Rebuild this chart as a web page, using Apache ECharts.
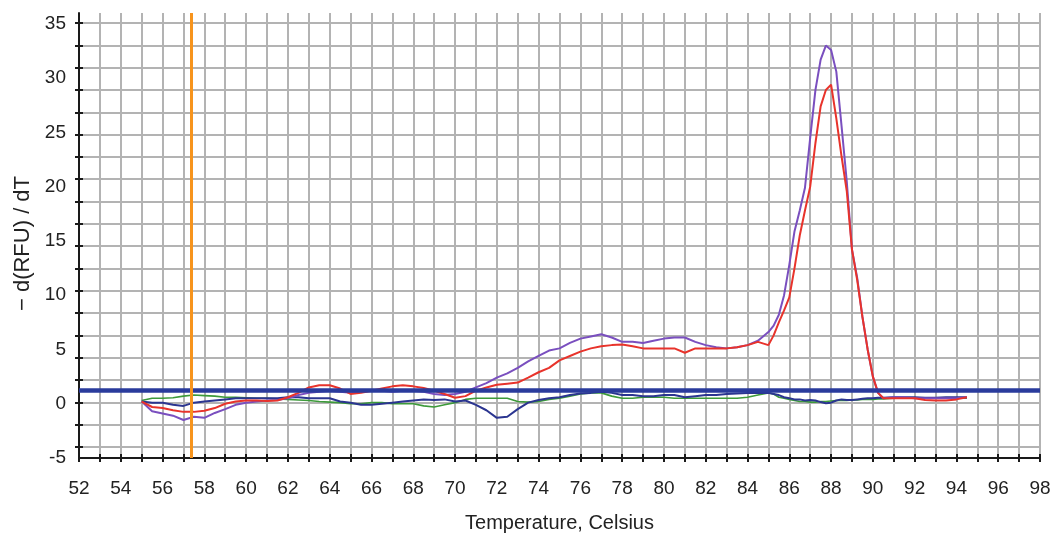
<!DOCTYPE html>
<html>
<head>
<meta charset="utf-8">
<title>Melt curve</title>
<script src="https://cdn.jsdelivr.net/npm/echarts@6/dist/echarts.min.js"></script>
<style>
  html, body { margin: 0; padding: 0; background: #ffffff; }
  #chart { width: 1055px; height: 541px; }
</style>
</head>
<body>
<div id="chart"></div>
<script>
// Melt-peak traces: temperature (°C) against -d(RFU)/dT
const temps = [
  55, 55.5, 56, 56.5, 57, 57.5, 58, 58.5, 59, 59.5,
  60, 60.5, 61, 61.5, 62, 62.5, 63, 63.5, 64, 64.5,
  65, 65.5, 66, 66.5, 67, 67.5, 68, 68.5, 69, 69.5,
  70, 70.5, 71, 71.5, 72, 72.5, 73, 73.5, 74, 74.5,
  75, 75.5, 76, 76.5, 77, 77.5, 78, 78.5, 79, 79.5,
  80, 80.5, 81, 81.5, 82, 82.5, 83, 83.5, 84, 84.5,
  85, 85.25, 85.5, 85.75, 86, 86.25, 86.5, 86.75, 87, 87.25,
  87.5, 87.75, 88, 88.25, 88.5, 88.75, 89, 89.25, 89.5, 89.75,
  90, 90.25, 90.5,
  91, 91.5, 92, 92.5, 93, 93.5, 94, 94.5
];

const purpleTrace = [
  0.2, -0.7, -0.9, -1.1, -1.5, -1.2, -1.3, -0.85, -0.5, -0.1,
  0.1, 0.2, 0.3, 0.35, 0.5, 0.8, 1.0, 1.1, 1.2, 1.1,
  1.0, 1.1, 1.2, 1.2, 1.1, 1.2, 1.2, 1.1, 0.9, 0.8,
  0.9, 1.1, 1.5, 1.9, 2.4, 2.8, 3.3, 3.9, 4.4, 4.9,
  5.1, 5.6, 6.0, 6.2, 6.4, 6.1, 5.7, 5.7, 5.6, 5.8,
  6.0, 6.1, 6.1, 5.7, 5.4, 5.2, 5.1, 5.2, 5.4, 5.8,
  6.6, 7.2, 8.2, 10.0, 12.8, 15.9, 17.8, 19.9, 24.5, 28.9,
  31.7, 33.0, 32.6, 30.6, 25.6, 20.5, 14.2, 11.6, 8.0, 5.0,
  2.5, 1.0, 0.5,
  0.6, 0.6, 0.5, 0.5, 0.5, 0.5, 0.5, 0.6
];

const redTrace = [
  0.2, -0.3, -0.4, -0.6, -0.75, -0.75, -0.65, -0.4, 0.0, 0.2,
  0.3, 0.3, 0.25, 0.3, 0.6, 1.0, 1.5, 1.7, 1.7, 1.4,
  0.9, 1.0, 1.2, 1.4, 1.6, 1.7, 1.6, 1.45, 1.2, 0.9,
  0.55, 0.7, 1.2, 1.5, 1.75, 1.85, 1.95, 2.4, 2.9, 3.3,
  4.0, 4.4, 4.8, 5.1, 5.3, 5.4, 5.45, 5.3, 5.1, 5.1,
  5.1, 5.1, 4.7, 5.1, 5.1, 5.1, 5.1, 5.2, 5.4, 5.7,
  5.4, 6.3, 7.5, 8.6, 9.8, 12.5, 15.5, 17.8, 20.0, 24.0,
  27.4, 28.9, 29.4, 26.3, 22.8, 19.6, 14.2, 11.4, 8.0, 5.0,
  2.5, 1.0, 0.5,
  0.5, 0.5, 0.5, 0.35, 0.3, 0.3, 0.4, 0.6
];

const navyTrace = [
  0.2, 0.1, 0.1, -0.1, -0.2, 0.1, 0.2, 0.3, 0.4, 0.5,
  0.5, 0.5, 0.5, 0.5, 0.6, 0.6, 0.5, 0.5, 0.5, 0.2,
  0.1, -0.1, -0.1, 0.0, 0.1, 0.2, 0.3, 0.4, 0.35, 0.4,
  0.2, 0.3, -0.1, -0.6, -1.3, -1.2, -0.5, 0.1, 0.35, 0.5,
  0.6, 0.8, 0.95, 1.0, 1.1, 1.0, 0.8, 0.8, 0.7, 0.7,
  0.8, 0.8, 0.6, 0.7, 0.8, 0.8, 0.9, 0.95, 1.0, 1.0,
  1.0, 0.9, 0.8, 0.6, 0.5, 0.4, 0.4, 0.3, 0.35, 0.3,
  0.15, 0.05, 0.1, 0.3, 0.4, 0.35, 0.35, 0.4, 0.45, 0.5,
  0.5, 0.55, 0.55,
  0.6, 0.6, 0.6, 0.55, 0.55, 0.6, 0.6, 0.6
];

const greenTrace = [
  0.3, 0.5, 0.5, 0.55, 0.7, 0.8, 0.75, 0.7, 0.6, 0.6,
  0.55, 0.5, 0.5, 0.45, 0.4, 0.35, 0.3, 0.2, 0.15, 0.1,
  0.0, 0.0, 0.1, 0.1, 0.0, 0.0, 0.0, -0.2, -0.3, -0.1,
  0.1, 0.4, 0.5, 0.5, 0.5, 0.5, 0.2, 0.15, 0.2, 0.4,
  0.5, 0.7, 0.9, 1.0, 1.0, 0.7, 0.5, 0.5, 0.6, 0.6,
  0.6, 0.5, 0.5, 0.5, 0.5, 0.5, 0.5, 0.5, 0.6, 0.8,
  1.0, 0.9, 0.6, 0.5, 0.4, 0.3, 0.2, 0.2, 0.15, 0.15,
  0.2, 0.2, 0.25, 0.3, 0.3, 0.3, 0.35, 0.35, 0.4, 0.4,
  0.4, 0.45, 0.45,
  0.5, 0.5, 0.5, 0.55, 0.5, 0.5, 0.5, 0.5
];

// Reference markers: melt threshold level and the temperature cursor
const thresholdLevel = [1.2];
const cursorTemp = [57.35];

// Axis ranges and tick labels
const xRange = [52, 98];
const xLabelTemps = [52, 54, 56, 58, 60, 62, 64, 66, 68, 70, 72, 74, 76, 78, 80, 82, 84, 86, 88, 90, 92, 94, 96, 98];
const yRange = [-5, 36];
const yLabels = [-5, 0, 5, 10, 15, 20, 25, 30, 35];

const FONT = '"Liberation Sans", Arial, Helvetica, sans-serif';
const GRID_GREY = '#b3b3b3';
const AXIS_BLACK = '#1a1a1a';
const TEXT_COLOR = '#222222';

function pairs(values) {
  return temps.map((t, i) => [t, values[i]]);
}

function trace(name, values, color, width) {
  return {
    name: name,
    type: 'line',
    xAxisIndex: 0,
    yAxisIndex: 0,
    data: pairs(values),
    showSymbol: false,
    symbol: 'none',
    smooth: false,
    lineStyle: { color: color, width: width },
    itemStyle: { color: color },
    z: 3
  };
}

const chart = echarts.init(document.getElementById('chart'), null, { renderer: 'canvas' });

chart.setOption({
  animation: false,
  backgroundColor: '#ffffff',
  textStyle: { fontFamily: FONT },
  grid: [
    // plotting area, from the top of the frame down to the temperature axis
    { left: 79, right: 15, top: 13, bottom: 83 },
    // band holding the horizontal rulings
    { left: 79, right: 15, top: 23, bottom: 94 }
  ],
  xAxis: [
    {
      gridIndex: 0,
      type: 'value',
      position: 'bottom',
      min: xRange[0],
      max: xRange[1],
      interval: 1,
      axisLine: { show: true, onZero: false, lineStyle: { color: AXIS_BLACK, width: 2 } },
      axisTick: { show: true, length: 4, lineStyle: { color: AXIS_BLACK, width: 2 } },
      splitLine: { show: true, lineStyle: { color: GRID_GREY, width: 2 } },
      axisLabel: {
        show: true,
        margin: 21,
        fontSize: 19,
        color: TEXT_COLOR,
        fontFamily: FONT,
        formatter: v => (xLabelTemps.indexOf(v) >= 0 ? String(v) : '')
      },
      name: 'Temperature, Celsius',
      nameLocation: 'middle',
      nameGap: 55,
      nameTextStyle: { fontSize: 20, color: TEXT_COLOR, fontFamily: FONT }
    },
    {
      // inner half of the crossing tick marks
      gridIndex: 0,
      type: 'value',
      position: 'bottom',
      min: xRange[0],
      max: xRange[1],
      interval: 1,
      axisLine: { show: false, onZero: false },
      axisTick: { show: true, inside: true, length: 4, lineStyle: { color: AXIS_BLACK, width: 2 } },
      splitLine: { show: false },
      axisLabel: { show: false }
    },
    {
      gridIndex: 1,
      type: 'value',
      min: xRange[0],
      max: xRange[1],
      show: false
    }
  ],
  yAxis: [
    {
      gridIndex: 0,
      type: 'value',
      position: 'left',
      min: yRange[0],
      max: yRange[1],
      interval: 5,
      axisLine: { show: true, onZero: false, lineStyle: { color: AXIS_BLACK, width: 2 } },
      axisTick: { show: false },
      splitLine: { show: false },
      axisLabel: {
        show: true,
        margin: 13,
        fontSize: 19,
        color: TEXT_COLOR,
        fontFamily: FONT,
        formatter: v => (yLabels.indexOf(v) >= 0 ? String(v) : '')
      },
      name: '\u2212 d(RFU) / dT',
      nameLocation: 'middle',
      nameRotate: 90,
      nameGap: 42,
      nameTextStyle: { fontSize: 22, color: TEXT_COLOR, fontFamily: FONT, padding: [0, 16, 0, 0] }
    },
    {
      // horizontal rulings with outer tick marks
      gridIndex: 1,
      type: 'value',
      position: 'left',
      min: 0,
      max: 19,
      interval: 1,
      axisLine: { show: false },
      axisTick: { show: true, length: 4, lineStyle: { color: AXIS_BLACK, width: 2 } },
      splitLine: { show: true, lineStyle: { color: GRID_GREY, width: 2 } },
      axisLabel: { show: false }
    },
    {
      // inner tick marks on the value axis
      gridIndex: 1,
      type: 'value',
      position: 'left',
      min: 0,
      max: 19,
      interval: 1,
      axisLine: { show: false },
      axisTick: { show: true, inside: true, length: 4, lineStyle: { color: AXIS_BLACK, width: 2 } },
      splitLine: { show: false },
      axisLabel: { show: false }
    }
  ],
  series: [
    trace('green', greenTrace, '#3d9a3a', 1.6),
    trace('navy', navyTrace, '#2b3590', 2),
    trace('purple', purpleTrace, '#7a4fbf', 2),
    trace('red', redTrace, '#e8332b', 2),
    {
      name: 'threshold',
      type: 'line',
      xAxisIndex: 0,
      yAxisIndex: 0,
      data: [],
      z: 5,
      markLine: {
        silent: true,
        symbol: ['none', 'none'],
        label: { show: false },
        lineStyle: { color: '#2a3b9c', width: 4.5, type: 'solid' },
        data: thresholdLevel.map(v => ({ yAxis: v }))
      }
    },
    {
      name: 'cursor',
      type: 'line',
      xAxisIndex: 0,
      yAxisIndex: 0,
      data: [],
      z: 6,
      markLine: {
        silent: true,
        symbol: ['none', 'none'],
        label: { show: false },
        lineStyle: { color: '#f7941d', width: 3, type: 'solid' },
        data: cursorTemp.map(v => ({ xAxis: v }))
      }
    }
  ]
});
</script>
</body>
</html>
